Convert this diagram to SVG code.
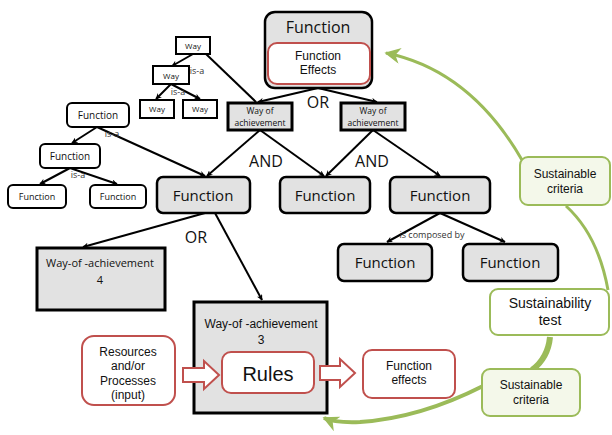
<svg xmlns="http://www.w3.org/2000/svg" width="612" height="435" viewBox="0 0 612 435">
<style>
.fn{fill:#e2e2e2;stroke:#000;stroke-width:2.5}
.way{fill:#e2e2e2;stroke:#000;stroke-width:3}
.small{fill:#fff;stroke:#000;stroke-width:2}
.red{fill:#fff;stroke:#c0504d;stroke-width:2}
.grn{fill:#fff;stroke:#9bbb59;stroke-width:2}
.grntop{fill:#f4f8ea;stroke:#9bbb59;stroke-width:2}
.t{font-family:"Open Sans","Liberation Sans",sans-serif;fill:#111;text-anchor:middle}
.a{font-family:"Liberation Sans",Arial,sans-serif;fill:#111;text-anchor:middle}
.con line{stroke:#000;stroke-width:2;fill:none}
</style>
<defs>
<marker id="ar" viewBox="0 0 10 10" refX="9" refY="5" markerWidth="6" markerHeight="6" orient="auto" markerUnits="userSpaceOnUse">
<path d="M0,0 L10,5 L0,10 L3,5 Z" fill="#000"/>
</marker>
<marker id="arg" viewBox="0 0 10 10" refX="9" refY="5" markerWidth="16" markerHeight="16" orient="auto-start-reverse" markerUnits="userSpaceOnUse">
<path d="M0,0 L10,5 L0,10 L3,5 Z" fill="#9bbb59"/>
</marker>
</defs>

<g id="connectors" class="con">
<line x1="318" y1="88" x2="258" y2="102" marker-end="url(#ar)"/>
<line x1="318" y1="88" x2="377" y2="102" marker-end="url(#ar)"/>
<line x1="206" y1="54" x2="256" y2="102"/>
<line x1="193" y1="54" x2="172" y2="66" marker-end="url(#ar)"/>
<line x1="171" y1="84" x2="156" y2="99" marker-end="url(#ar)"/>
<line x1="171" y1="84" x2="200" y2="99" marker-end="url(#ar)"/>
<line x1="97" y1="127" x2="72" y2="143" marker-end="url(#ar)"/>
<line x1="97" y1="127" x2="205" y2="176" marker-end="url(#ar)"/>
<line x1="70" y1="168" x2="40" y2="184" marker-end="url(#ar)"/>
<line x1="70" y1="168" x2="117" y2="184" marker-end="url(#ar)"/>
<line x1="260" y1="130" x2="207" y2="176" marker-end="url(#ar)"/>
<line x1="260" y1="130" x2="324" y2="176" marker-end="url(#ar)"/>
<line x1="373" y1="130" x2="326" y2="176" marker-end="url(#ar)"/>
<line x1="373" y1="130" x2="440" y2="176" marker-end="url(#ar)"/>
<line x1="440" y1="213" x2="387" y2="242" marker-end="url(#ar)"/>
<line x1="440" y1="213" x2="505" y2="242" marker-end="url(#ar)"/>
<line x1="205" y1="213" x2="83" y2="247" marker-end="url(#ar)"/>
<line x1="215" y1="213" x2="262" y2="300" marker-end="url(#ar)"/>
<path d="M386,53 Q470,70 522,160" style="stroke:#9bbb59;stroke-width:3;fill:none" marker-start="url(#arg)"/>
<path d="M566,206 Q598,235 608,290" style="stroke:#9bbb59;stroke-width:3;fill:none"/>
<path d="M550,337 Q548,358 532,370" style="stroke:#9bbb59;stroke-width:6;fill:none"/>
<path d="M483,386 Q420,418 360,422 Q335,423 324,418" style="stroke:#9bbb59;stroke-width:4;fill:none" marker-end="url(#arg)"/>
</g>

<text class="t" x="318" y="108" font-size="16">OR</text>
<text class="t" x="266" y="167" font-size="16">AND</text>
<text class="t" x="372" y="167" font-size="16">AND</text>
<text class="t" x="196" y="243" font-size="16">OR</text>
<text class="t" x="197" y="74" font-size="9" style="fill:#333">is-a</text>
<text class="t" x="178" y="95" font-size="9" style="fill:#333">is-a</text>
<text class="t" x="112" y="137" font-size="9" style="fill:#333">is-a</text>
<text class="t" x="78" y="178" font-size="9" style="fill:#333">is-a</text>
<text class="t" x="432" y="238" font-size="9" style="fill:#333">is composed by</text>

<g id="top-function">
<rect class="fn" x="265" y="12" width="107" height="76" rx="10"/>
<text class="t" x="318" y="33" font-size="16">Function</text>
<rect class="red" x="268" y="43" width="102" height="41" rx="9"/>
<text class="a" x="318" y="60" font-size="12">Function</text>
<text class="a" x="318" y="74" font-size="12">Effects</text>
</g>

<g id="way1"><rect class="small" x="176" y="37" width="34" height="17"/><text class="t" x="193" y="49" font-size="8">Way</text></g>
<g id="way2"><rect class="small" x="153" y="66" width="36" height="18"/><text class="t" x="171" y="79" font-size="8">Way</text></g>
<g id="way3"><rect class="small" x="140" y="100" width="34" height="18"/><text class="t" x="157" y="112" font-size="8">Way</text></g>
<g id="way4"><rect class="small" x="183" y="100" width="34" height="18"/><text class="t" x="200" y="112" font-size="8">Way</text></g>

<g id="woa-left"><rect class="way" x="228" y="103" width="64" height="27"/><text class="t" x="260" y="114" font-size="8.5">Way of</text><text class="t" x="260" y="126" font-size="8.5">achievement</text></g>
<g id="woa-right"><rect class="way" x="341" y="103" width="64" height="27"/><text class="t" x="373" y="114" font-size="8.5">Way of</text><text class="t" x="373" y="126" font-size="8.5">achievement</text></g>

<g id="f-a"><rect class="small" x="67" y="103" width="62" height="24" rx="5"/><text class="t" x="98" y="119" font-size="10">Function</text></g>
<g id="f-b"><rect class="small" x="40" y="144" width="60" height="24" rx="5"/><text class="t" x="70" y="160" font-size="10">Function</text></g>
<g id="f-c"><rect class="small" x="8" y="185" width="58" height="23" rx="5"/><text class="t" x="37" y="200" font-size="9">Function</text></g>
<g id="f-d"><rect class="small" x="90" y="185" width="56" height="23" rx="5"/><text class="t" x="118" y="200" font-size="9">Function</text></g>

<g id="f1"><rect class="fn" x="157" y="177" width="93" height="36" rx="6"/><text class="t" x="203" y="201" font-size="15">Function</text></g>
<g id="f2"><rect class="fn" x="280" y="177" width="90" height="36" rx="6"/><text class="t" x="325" y="201" font-size="15">Function</text></g>
<g id="f3"><rect class="fn" x="390" y="177" width="100" height="36" rx="6"/><text class="t" x="440" y="201" font-size="15">Function</text></g>
<g id="f4"><rect class="fn" x="338" y="244" width="94" height="37" rx="6"/><text class="t" x="385" y="268" font-size="15">Function</text></g>
<g id="f5"><rect class="fn" x="463" y="244" width="95" height="37" rx="6"/><text class="t" x="510" y="268" font-size="15">Function</text></g>

<g id="woa4"><rect class="way" x="37" y="248" width="128" height="62"/><text class="t" x="100" y="267" font-size="11">Way-of -achievement</text><text class="t" x="100" y="284" font-size="11">4</text></g>

<g id="woa3">
<rect class="way" x="194" y="302" width="133" height="111"/>
<text class="a" x="261" y="328" font-size="12">Way-of -achievement</text>
<text class="a" x="261" y="344" font-size="12">3</text>
</g>
<g id="rules"><rect class="red" x="222" y="352" width="92" height="41" rx="9"/><text class="a" x="268" y="381" font-size="20">Rules</text></g>
<g id="resources">
<rect class="red" x="82" y="336" width="93" height="69" rx="12"/>
<text class="a" x="128" y="356" font-size="12">Resources</text>
<text class="a" x="128" y="370" font-size="12">and/or</text>
<text class="a" x="128" y="385" font-size="12">Processes</text>
<text class="a" x="128" y="399" font-size="12">(input)</text>
</g>
<g id="arrow-in"><path d="M183,368 H204 V361 L219,375 L204,389 V382 H183 Z" fill="#fff" stroke="#c0504d" stroke-width="2"/></g>
<g id="arrow-out"><path d="M320,366 H340 V359 L355,373 L340,387 V380 H320 Z" fill="#fff" stroke="#c0504d" stroke-width="2"/></g>
<g id="fe"><rect class="red" x="363" y="350" width="92" height="48" rx="9"/><text class="a" x="409" y="370" font-size="12">Function</text><text class="a" x="409" y="384" font-size="12">effects</text></g>

<g id="sc-top"><rect class="grntop" x="520" y="157" width="90" height="48" rx="8"/><text class="a" x="565" y="178" font-size="12">Sustainable</text><text class="a" x="565" y="193" font-size="12">criteria</text></g>
<g id="st"><rect class="grn" x="490" y="289" width="119" height="46" rx="8"/><text class="a" x="550" y="308" font-size="14">Sustainability</text><text class="a" x="550" y="325" font-size="14">test</text></g>
<g id="sc-bot"><rect class="grntop" x="482" y="369" width="98" height="47" rx="8"/><text class="a" x="531" y="389" font-size="12">Sustainable</text><text class="a" x="531" y="404" font-size="12">criteria</text></g>
</svg>
